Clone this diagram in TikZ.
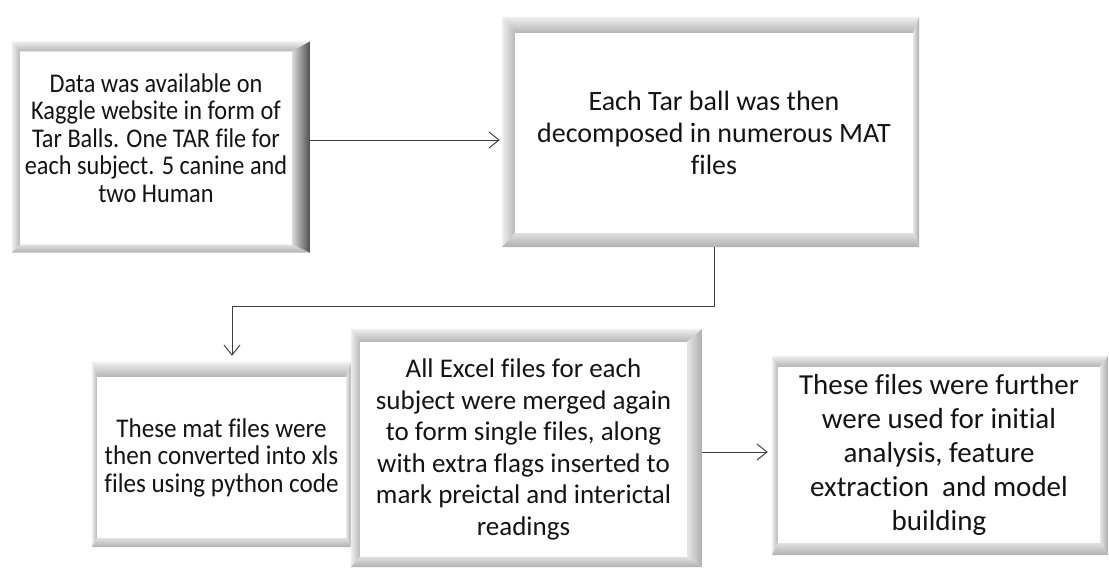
\documentclass[tikz,border=0pt]{standalone}
\usepackage{fontspec}
\setmainfont{Carlito}[Ligatures=NoCommon]
\newfontfamily\narrowA[FakeStretch=0.9,Ligatures=NoCommon]{Carlito}
\newfontfamily\narrowB[FakeStretch=0.93,Ligatures=NoCommon]{Carlito}
\usetikzlibrary{calc,arrows.meta}
\tikzset{
  face/.style={fill=white, inner sep=0pt, align=center, text=black!92},
  arr/.style={draw=black!75, line width=1pt, -{Straight Barb[length=10pt,width=16pt,line width=1pt]}},
  rlight/.style={left color=gray!20, right color=gray!65},
  rdark/.style={left color=gray!30, middle color=black!68, right color=black!70},
}
% #1 node, #2 left, #3 top, #4 right, #5 bottom, #6 style of right bevel
\newcommand\bevel[6]{%
  \coordinate (oNW) at ($(#1.north west)+(-#2,-#3)$);
  \coordinate (oNE) at ($(#1.north east)+(#4,-#3)$);
  \coordinate (oSE) at ($(#1.south east)+(#4,#5)$);
  \coordinate (oSW) at ($(#1.south west)+(-#2,#5)$);
  \shade[top color=gray!12, bottom color=gray!58] (oNW) -- (oNE) -- (#1.north east) -- (#1.north west) -- cycle;
  \shade[left color=gray!12, right color=gray!55] (oNW) -- (#1.north west) -- (#1.south west) -- (oSW) -- cycle;
  \shade[top color=gray!25, bottom color=gray!62] (#1.south west) -- (#1.south east) -- (oSE) -- (oSW) -- cycle;
  \shade[#6] (#1.north east) -- (oNE) -- (oSE) -- (#1.south east) -- cycle;
}
\begin{document}
\begin{tikzpicture}[x=1pt,y=-1pt]
\useasboundingbox[fill=white] (0,0) rectangle (1109,573);

% Box 1
\node[face, minimum width=272pt, minimum height=193pt,
      font=\narrowA\fontsize{27pt}{27.5pt}\selectfont] (b1) at (156,148)
  {Data was available on\\ Kaggle website in form of\\ Tar Balls. One TAR file for\\ each subject. 5 canine and\\ two Human\rule[-20pt]{0pt}{0pt}};
\bevel{b1}{8}{10}{18}{8}{rdark}

% Box 2
\node[face, minimum width=398pt, minimum height=200pt,
      font=\fontsize{28pt}{32pt}\selectfont] (b2) at (714,133)
  {Each Tar ball was then\\ decomposed in numerous MAT\\ files};
\bevel{b2}{13}{16}{6}{14}{rlight}

% Box 3
\node[face, minimum width=249pt, minimum height=161pt,
      font=\narrowB\fontsize{27pt}{27.5pt}\selectfont] (b3) at (221.5,457.5)
  {These mat files were\\ then converted into xls\\ files using python code};
\bevel{b3}{5}{15}{5}{9}{rlight}

% Box 4
\node[face, minimum width=327pt, minimum height=215pt,
      font=\fontsize{27pt}{31.5pt}\selectfont] (b4) at (523.5,449.5)
  {All Excel files for each\\ subject were merged again\\ to form single files, along\\ with extra flags inserted to\\ mark preictal and interictal\\ readings};
\bevel{b4}{9}{13}{15}{10}{rlight}

% Box 5
\node[face, minimum width=322pt, minimum height=176pt,
      font=\fontsize{29pt}{34pt}\selectfont] (b5) at (939,455)
  {These files were further\\ were used for initial\\ analysis, feature\\ extraction\ \ and model\\ building};
\bevel{b5}{6}{11}{8}{12}{rlight}

% Connectors
\draw[arr] ($(b1.east)+(18,-8)$) -- ($(b2.west)+(-15,7)$);
\draw[arr] ($(b2.south)+(0,14)$) |- ($(b3.north)+(10.5,-70)$) -- ($(b3.north)+(10.5,-21)$);
\draw[arr] ($(b4.east)+(15,2.5)$) -- ($(b5.west)+(-10,-3)$);
\end{tikzpicture}
\end{document}
